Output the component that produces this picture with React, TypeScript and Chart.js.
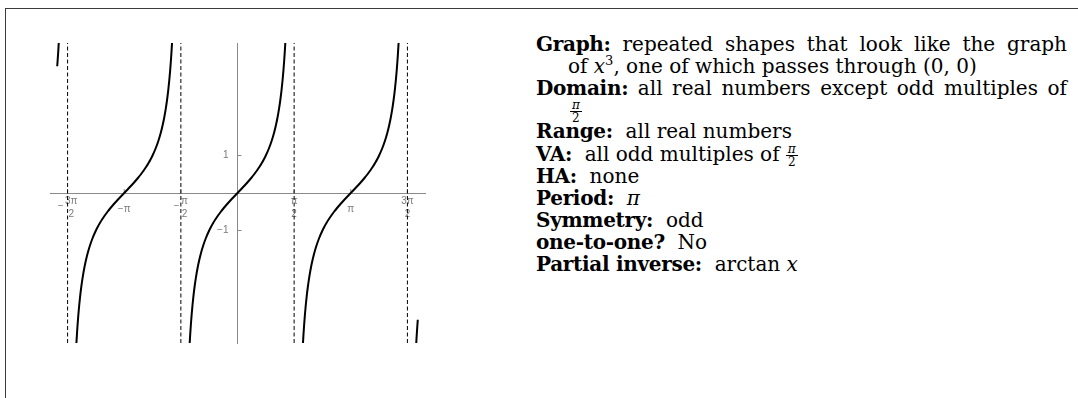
import React, { useEffect, useRef } from "react";
import { Chart, registerables } from "chart.js";

Chart.register(...registerables);

const PI = Math.PI;

// Window of the plot: tan x is drawn on DOMAIN, axes span the padded range
const DOMAIN = [-5, 5];
const X_RANGE = [-5.2, 5.2];
const Y_RANGE = [-4, 4];

// One branch of tan x: offset from the branch centre kπ, and the value there
const BRANCH_U = [
  -1.32582, -1.31019, -1.2925, -1.27229, -1.24905, -1.22203, -1.19029, -1.15257,
  -1.10715, -1.0637, -1.0122, -0.95055, -0.87606, -0.7854, -0.73282, -0.67474,
  -0.61073, -0.54042, -0.46365, -0.38051, -0.29146, -0.1974, -0.09967, 0,
  0.09967, 0.1974, 0.29146, 0.38051, 0.46365, 0.54042, 0.61073, 0.67474,
  0.73282, 0.7854, 0.87606, 0.95055, 1.0122, 1.0637, 1.10715, 1.15257,
  1.19029, 1.22203, 1.24905, 1.27229, 1.2925, 1.31019, 1.32582,
];
const BRANCH_Y = [
  -4, -3.75, -3.5, -3.25, -3, -2.75, -2.5, -2.25,
  -2, -1.8, -1.6, -1.4, -1.2, -1, -0.9, -0.8,
  -0.7, -0.6, -0.5, -0.4, -0.3, -0.2, -0.1, 0,
  0.1, 0.2, 0.3, 0.4, 0.5, 0.6, 0.7, 0.8,
  0.9, 1, 1.2, 1.4, 1.6, 1.8, 2, 2.25,
  2.5, 2.75, 3, 3.25, 3.5, 3.75, 4,
];

// Branch centres (multiples of π) inside the window
const BRANCH_CENTRES = [-2 * PI, -PI, 0, PI, 2 * PI];

// tan x at the two ends of the plotted domain
const LEFT_END = { x: -5, y: 3.3805 };
const RIGHT_END = { x: 5, y: -3.3805 };

// Vertical asymptotes at the odd multiples of π/2
const ASYMPTOTES = [-1.5 * PI, -0.5 * PI, 0.5 * PI, 1.5 * PI];

// Axis ticks and their labels
const X_TICKS = [-1.5 * PI, -PI, -0.5 * PI, 0.5 * PI, PI, 1.5 * PI];
const X_TICK_LABELS = [
  { sign: "−", num: "3π", den: "2" },
  { sign: "", num: "−π", den: "" },
  { sign: "−", num: "π", den: "2" },
  { sign: "", num: "π", den: "2" },
  { sign: "", num: "π", den: "" },
  { sign: "", num: "3π", den: "2" },
];
const Y_TICKS = [-1, 1];
const Y_TICK_LABELS = ["−1", "1"];

const AXIS_COLOR = "#8a8a8a";
const LABEL_COLOR = "#7a7a7a";
const LABEL_FONT = '10px "Liberation Sans", Arial, sans-serif';

function branchPoints(c: number) {
  const pts = BRANCH_U.map((u, i) => ({ x: c + u, y: BRANCH_Y[i] })).filter(
    (p) => p.x >= DOMAIN[0] && p.x <= DOMAIN[1]
  );
  if (c + BRANCH_U[0] < DOMAIN[0]) pts.unshift(LEFT_END);
  if (c + BRANCH_U[BRANCH_U.length - 1] > DOMAIN[1]) pts.push(RIGHT_END);
  return pts;
}

const axisMarks = {
  id: "axisMarks",
  beforeDatasetsDraw(chart: any) {
    const { ctx, scales } = chart;
    const xs = scales.x;
    const ys = scales.y;
    const x0 = xs.getPixelForValue(0);
    const y0 = ys.getPixelForValue(0);
    ctx.save();
    ctx.strokeStyle = AXIS_COLOR;
    ctx.lineWidth = 1;
    ctx.beginPath();
    X_TICKS.forEach((v) => {
      const px = xs.getPixelForValue(v);
      ctx.moveTo(px, y0);
      ctx.lineTo(px, y0 - 4);
    });
    Y_TICKS.forEach((v) => {
      const py = ys.getPixelForValue(v);
      ctx.moveTo(x0, py);
      ctx.lineTo(x0 + 4, py);
    });
    ctx.stroke();

    ctx.fillStyle = LABEL_COLOR;
    ctx.font = LABEL_FONT;
    ctx.textBaseline = "middle";
    X_TICKS.forEach((v, i) => {
      const lab = X_TICK_LABELS[i];
      const px = xs.getPixelForValue(v);
      if (!lab.den) {
        ctx.textAlign = "center";
        ctx.fillText(lab.num, px, y0 + 16);
        return;
      }
      const signW = lab.sign ? ctx.measureText(lab.sign).width + 1.5 : 0;
      const fracW = ctx.measureText(lab.num).width;
      const left = px - (signW + fracW) / 2;
      const fc = left + signW + fracW / 2;
      if (lab.sign) {
        ctx.textAlign = "left";
        ctx.fillText(lab.sign, left, y0 + 13);
      }
      ctx.textAlign = "center";
      ctx.fillText(lab.num, fc, y0 + 8);
      ctx.fillText(lab.den, fc, y0 + 21);
    });
    ctx.textAlign = "right";
    Y_TICKS.forEach((v, i) => {
      ctx.fillText(Y_TICK_LABELS[i], x0 - 9, ys.getPixelForValue(v));
    });
    ctx.restore();
  },
};

function TanPlot() {
  const ref = useRef<HTMLCanvasElement | null>(null);
  useEffect(() => {
    if (!ref.current) return;
    const curveSets = BRANCH_CENTRES.map((c) => ({
      data: branchPoints(c),
      borderColor: "#000",
      borderWidth: 2,
      pointRadius: 0,
      cubicInterpolationMode: "monotone" as const,
      fill: false,
    }));
    const asymptoteSets = ASYMPTOTES.map((a) => ({
      data: [
        { x: a, y: Y_RANGE[0] },
        { x: a, y: Y_RANGE[1] },
      ],
      borderColor: "#000",
      borderWidth: 1,
      borderDash: [4, 2.5],
      pointRadius: 0,
      fill: false,
    }));
    const chart = new Chart(ref.current, {
      type: "line",
      data: { datasets: [...asymptoteSets, ...curveSets] as any },
      options: {
        animation: false,
        responsive: false,
        devicePixelRatio: 1,
        layout: { padding: { left: 20, top: 18, right: 25, bottom: 22 } },
        plugins: { legend: { display: false }, tooltip: { enabled: false } },
        elements: { point: { radius: 0 } },
        scales: {
          x: {
            type: "linear",
            min: X_RANGE[0],
            max: X_RANGE[1],
            position: { y: 0 } as any,
            grid: { display: false },
            ticks: { display: false },
            border: { display: true, color: AXIS_COLOR, width: 1 },
          },
          y: {
            type: "linear",
            min: Y_RANGE[0],
            max: Y_RANGE[1],
            position: { x: 0 } as any,
            grid: { display: false },
            ticks: { display: false },
            border: { display: true, color: AXIS_COLOR, width: 1 },
          },
        },
      },
      plugins: [axisMarks],
    });
    return () => chart.destroy();
  }, []);
  return (
    <canvas
      ref={ref}
      width={420}
      height={340}
      style={{ position: "absolute", left: 30, top: 25, width: 420, height: 340 }}
    />
  );
}

const serif = '"DejaVu Serif", "Liberation Serif", serif';
const TEXT_LEFT = 536;
const TEXT_RIGHT = 1067;

function Frac({ n, d, size = 12 }: { n: string; d: string; size?: number }) {
  return (
    <span
      style={{
        display: "inline-flex",
        flexDirection: "column",
        alignItems: "center",
        verticalAlign: "middle",
        fontSize: size,
        lineHeight: 1,
        margin: "0 1px",
      }}
    >
      <span style={{ fontStyle: "italic" }}>{n}</span>
      <span style={{ borderTop: "1px solid #000", padding: "0 1px", width: "100%", textAlign: "center" }}>{d}</span>
    </span>
  );
}

// A text line; justified lines are stretched to the right margin
function Line({
  top,
  left = TEXT_LEFT,
  justify = false,
  children,
}: {
  top: number;
  left?: number;
  justify?: boolean;
  children: React.ReactNode;
}) {
  return (
    <div
      style={{
        position: "absolute",
        top,
        left,
        width: justify ? TEXT_RIGHT - left : undefined,
        whiteSpace: justify ? "normal" : "nowrap",
        textAlign: justify ? "justify" : "left",
        textAlignLast: justify ? "justify" : "auto",
        lineHeight: "22px",
        height: 22,
      } as any}
    >
      {children}
    </div>
  );
}

const B = ({ children }: { children: React.ReactNode }) => (
  <b style={{ fontWeight: 700, letterSpacing: "-0.3px" }}>{children}</b>
);

export default function App() {
  return (
    <div
      style={{
        position: "absolute",
        left: 0,
        top: 0,
        width: 1078,
        height: 398,
        overflow: "hidden",
        background: "#fff",
        fontFamily: serif,
        fontSize: 20,
        color: "#000",
      }}
    >
      <div
        style={{
          position: "absolute",
          left: 5,
          top: 8,
          width: 1100,
          height: 420,
          borderTop: "1px solid #3c3c3c",
          borderLeft: "1px solid #3c3c3c",
        }}
      />
      <TanPlot />
      <Line top={33} justify>
        <B>Graph:</B> repeated shapes that look like the graph
      </Line>
      <Line top={55} left={568}>
        of <i>x</i>
        <sup style={{ fontSize: 13, lineHeight: 0 }}>3</sup>, one of which passes through (0, 0)
      </Line>
      <Line top={77} justify>
        <B>Domain:</B> all real numbers except odd multiples of
      </Line>
      <div style={{ position: "absolute", top: 99, left: 570, lineHeight: 1 }}>
        <Frac n="π" d="2" />
      </div>
      <Line top={120}>
        <B>Range:</B>&nbsp; all real numbers
      </Line>
      <Line top={143}>
        <B>VA:</B>&nbsp; all odd multiples of <Frac n="π" d="2" />
      </Line>
      <Line top={165}>
        <B>HA:</B>&nbsp; none
      </Line>
      <Line top={187}>
        <B>Period:</B>&nbsp; <i>π</i>
      </Line>
      <Line top={209}>
        <B>Symmetry:</B>&nbsp; odd
      </Line>
      <Line top={231}>
        <B>one-to-one?</B>&nbsp; No
      </Line>
      <Line top={253}>
        <B>Partial inverse:</B>&nbsp; arctan <i>x</i>
      </Line>
    </div>
  );
}
